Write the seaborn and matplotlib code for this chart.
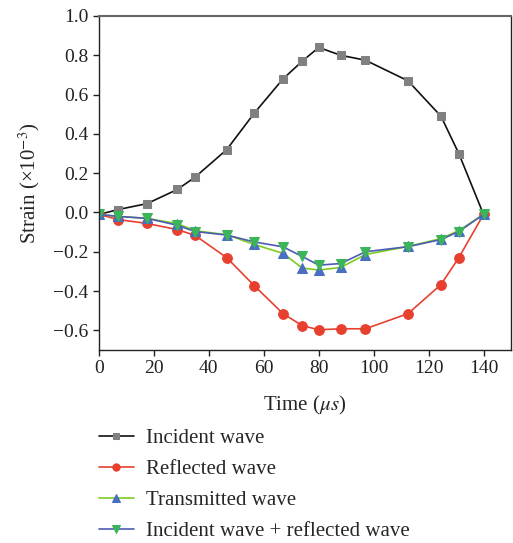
import numpy as np
import pandas as pd
import matplotlib

matplotlib.use("Agg")
import matplotlib.pyplot as plt
import seaborn as sns

# values (strain in 1e-3, time in microseconds)
time_us = [0, 7, 17.5, 28.5, 35, 46.5, 56.5, 67, 74, 80, 88, 97, 112.5, 124.5, 131, 140]
incident = [-0.01, 0.015, 0.045, 0.117, 0.18, 0.32, 0.505, 0.68, 0.77, 0.84,
            0.80, 0.775, 0.67, 0.49, 0.30, -0.01]
reflected = [-0.01, -0.036, -0.056, -0.087, -0.117, -0.23, -0.372, -0.515, -0.576, -0.597,
             -0.592, -0.592, -0.515, -0.367, -0.23, -0.01]
transmitted = [-0.01, -0.02, -0.03, -0.057, -0.093, -0.113, -0.163, -0.208, -0.283, -0.293,
               -0.28, -0.214, -0.173, -0.133, -0.092, -0.01]
inc_plus_ref = [-0.01, -0.02, -0.03, -0.065, -0.097, -0.115, -0.15, -0.175, -0.224, -0.268,
                -0.26, -0.2, -0.174, -0.138, -0.097, -0.01]

labels = ["Incident wave", "Reflected wave", "Transmitted wave",
          "Incident wave + reflected wave"]

sns.set_theme(style="ticks")
plt.rcParams["font.family"] = ["Liberation Serif", "DejaVu Serif"]
plt.rcParams["mathtext.fontset"] = "stix"

fig = plt.figure(figsize=(5.13, 5.43), dpi=100)
ax = fig.add_axes([99 / 513, 1 - 350 / 543, 412 / 513, 334 / 543])

series = [incident, reflected, transmitted, inc_plus_ref]
# line colour, marker, marker colour, marker size
styles = [
    ("#111111", "s", "#808080", 6),
    ("#e8402f", "o", "#e8402f", 7),
    ("#7ccc1f", "^", "#4a6fc0", 7.5),
    ("#4c5cb4", "v", "#3cb55a", 7.5),
]
for vals, (lc, mk, mc, ms), lab in zip(series, styles, labels):
    sns.lineplot(x=time_us, y=vals, ax=ax, color=lc, linewidth=1.2,
                 marker=mk, markersize=ms, markerfacecolor=mc,
                 markeredgecolor=mc, label=lab)

ax.set_xlim(0, 150)
ax.set_ylim(-0.7, 1.0)
ax.set_xticks(np.arange(0, 141, 20))
yt = np.arange(-0.6, 1.01, 0.2)
ax.set_yticks(yt)
ax.set_yticklabels([f"{v:.1f}".replace("-", "\u2212") for v in yt])
ax.tick_params(labelsize=14, length=4, width=1, direction="out", colors="#222222")
for side in ["left", "bottom", "right"]:
    ax.spines[side].set_color("#222222")
    ax.spines[side].set_linewidth(1)
ax.spines["top"].set_color("#666666")
ax.spines["top"].set_linewidth(1.5)

ax.set_xlabel("Time ($\\mu s$)", fontsize=15, labelpad=12)
ax.set_ylabel("Strain (\u00d710$^{-3}$)", fontsize=15, labelpad=8)

handles, labs = ax.get_legend_handles_labels()
ax.get_legend().remove()
fig.legend(handles, labs, loc="upper left", bbox_to_anchor=(80 / 513, 1 - 410 / 543),
           frameon=False, fontsize=15, handlelength=1.7, handletextpad=0.58,
           labelspacing=0.55, markerscale=0.75)

fig.savefig("out.png", dpi=100)
